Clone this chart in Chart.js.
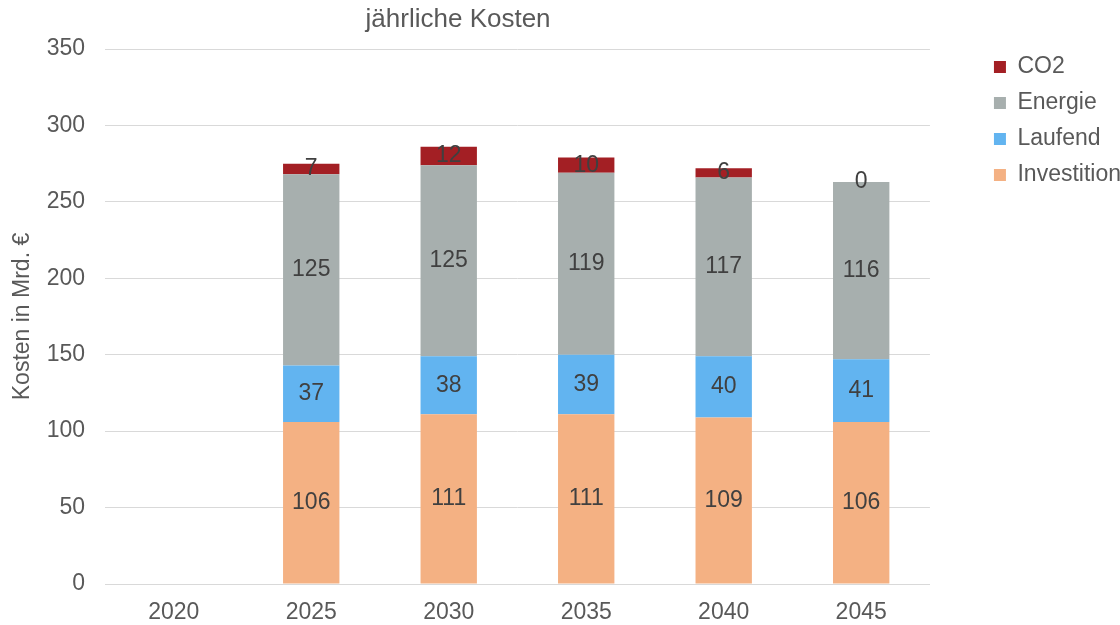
<!DOCTYPE html>
<html>
<head>
<meta charset="utf-8">
<script src="https://cdn.jsdelivr.net/npm/chart.js@4"></script>
<style>
  body { margin: 0; background: #fff; }
</style>
</head>
<body>
<canvas id="kosten" width="1120" height="625"></canvas>
<script>
  const years = ['2020', '2025', '2030', '2035', '2040', '2045'];
  const investition = [null, 106, 111, 111, 109, 106];
  const laufend = [null, 37, 38, 39, 40, 41];
  const energie = [null, 125, 125, 119, 117, 116];
  const co2 = [null, 7, 12, 10, 6, 0];
  const yTicks = [0, 50, 100, 150, 200, 250, 300, 350];

  const grey = '#595959';
  const font = 'Liberation Sans, Arial, sans-serif';

  // draws the value in the middle of every segment
  const segmentLabels = {
    id: 'segmentLabels',
    afterDatasetsDraw(chart) {
      const ctx = chart.ctx;
      ctx.save();
      ctx.font = '23px ' + font;
      ctx.fillStyle = '#404040';
      ctx.textAlign = 'center';
      ctx.textBaseline = 'middle';
      chart.data.datasets.forEach((ds, i) => {
        chart.getDatasetMeta(i).data.forEach((bar, j) => {
          const v = ds.data[j];
          if (v === null) return;
          ctx.fillText(v, bar.x, (bar.y + bar.base) / 2);
        });
      });
      ctx.restore();
    }
  };

  // title box above the plot only (not above the legend),
  // text sits a bit left of the plot centre like the original
  const titleBox = {
    id: 'titleBox',
    beforeInit(chart) {
      Chart.layouts.addBox(chart, {
        position: 'top',
        fullSize: false,
        weight: 2000,
        options: {},
        isHorizontal: () => true,
        update(maxWidth) { this.width = maxWidth; this.height = 49; },
        draw() {
          const ctx = chart.ctx;
          ctx.save();
          ctx.font = '26px ' + font;
          ctx.fillStyle = grey;
          ctx.textAlign = 'center';
          ctx.textBaseline = 'middle';
          ctx.fillText('jährliche Kosten', this.left + this.width * 0.428, this.top + 20);
          ctx.restore();
        }
      });
    }
  };

  new Chart(document.getElementById('kosten'), {
    type: 'bar',
    data: {
      labels: years,
      datasets: [
        { label: 'Investition', data: investition, backgroundColor: '#F4B183' },
        { label: 'Laufend', data: laufend, backgroundColor: '#62B4F0' },
        { label: 'Energie', data: energie, backgroundColor: '#A7AFAE' },
        { label: 'CO2', data: co2, backgroundColor: '#A31F24' }
      ]
    },
    options: {
      responsive: false,
      animation: false,
      layout: { padding: { top: 0, left: 8, right: -11, bottom: 0 } },
      datasets: {
        bar: { barPercentage: 0.41, categoryPercentage: 1, borderWidth: 0 }
      },
      plugins: {
        legend: {
          position: 'right',
          align: 'start',
          reverse: true,
          title: { display: true, text: '', font: { size: 10 }, padding: 15.25 },
          labels: {
            boxWidth: 12,
            boxHeight: 12,
            padding: 13,
            color: grey,
            font: { family: font, size: 23 }
          }
        },
        title: { display: false },
        tooltip: { enabled: false }
      },
      scales: {
        x: {
          stacked: true,
          grid: { display: false },
          border: { color: '#d9d9d9' },
          ticks: { color: grey, font: { family: font, size: 23 }, padding: 7 },
          afterFit: axis => { axis.height = 41; }
        },
        y: {
          stacked: true,
          min: 0,
          max: 350,
          afterBuildTicks: axis => { axis.ticks = yTicks.map(v => ({ value: v })); },
          afterFit: axis => { axis.width = 97; },
          grid: { color: '#d9d9d9', drawTicks: false },
          border: { display: false },
          ticks: { color: grey, font: { family: font, size: 23 }, padding: 20 },
          title: {
            display: true,
            text: 'Kosten in Mrd. €',
            color: grey,
            font: { family: font, size: 23 },
            padding: { top: 1, bottom: 0 }
          }
        },
        // empty axis keeping the gap between plot and legend
        gap: {
          position: 'right',
          grid: { display: false },
          border: { display: false },
          ticks: { display: false },
          afterFit: axis => { axis.width = 51; }
        }
      }
    },
    plugins: [segmentLabels, titleBox]
  });
</script>
</body>
</html>
